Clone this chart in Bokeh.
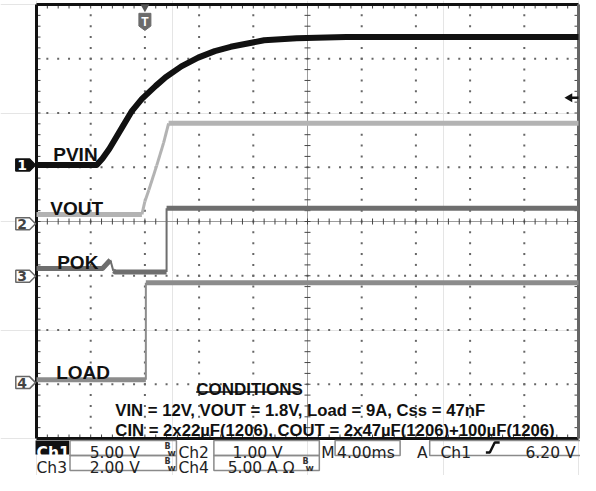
import numpy as np
from bokeh.plotting import figure
from bokeh.models import Range1d
from bokeh.core.properties import value
from bokeh.embed import file_html
from bokeh.resources import INLINE

# ---------------- data ----------------
# time in ms measured from the left edge of the screen (4 ms/div)
pvin_time = [0.0, 4.44, 4.87, 5.38, 6.33, 7.05, 7.78, 8.80, 9.53, 10.69, 11.93,
             13.16, 14.33, 16.80, 19.20, 22.84, 40.0]
pvin_volts = [0.0, 0.0, 0.6, 1.5, 3.5, 5.0, 6.1, 7.3, 8.1, 9.1, 9.9,
              10.5, 10.9, 11.5, 11.7, 11.8, 11.8]
vout_time = [0.0, 7.78, 8.0, 8.29, 8.87, 9.38, 9.75, 40.0]
vout_volts = [0.17, 0.17, 0.41, 0.62, 1.07, 1.49, 1.85, 1.85]
pok_time = [0.0, 4.87, 5.45, 5.67, 5.82, 9.6, 9.6, 40.0]
pok_volts = [0.29, 0.29, 0.60, 0.20, 0.16, 0.16, 2.51, 2.51]
load_time = [0.0, 8.07, 8.07, 40.0]
load_amps = [0.27, 0.27, 9.2, 9.2]

channel_labels = ["PVIN", "VOUT", "POK", "LOAD"]
channel_scales = [5.0, 1.0, 2.0, 5.0]          # units per division
channel_units = ["V", "V", "V", "A"]
ground_divs = [5.04, 3.96, 2.99, 1.03]          # ground marker position (div from bottom)
time_per_div = 4.0                              # ms/div
trigger_time = 8.0                              # ms
trigger_level = 6.20                            # V on Ch1

conditions_title = "CONDITIONS"
conditions_lines = ["VIN = 12V, VOUT = 1.8V, Load = 9A, Css = 47nF",
                    "CIN = 2x22\u00b5F(1206), COUT = 2x47\u00b5F(1206)+100\u00b5F(1206)"]

# ---------------- layout (canvas pixels) ----------------
W, H = 580, 475
N_X, N_Y = 10, 8
FL, DIV_W = 36.0, 54.2
FT, DIV_H = 4.0, 54.25
T_END = N_X * time_per_div


def cx2t(c):
    return (c - FL) / DIV_W * time_per_div


def cy2d(c):
    return N_Y - (c - FT) / DIV_H


def rx(x):   # reference pixel x -> ms
    return cx2t(FL + (x - 36) * DIV_W / 55.0)


def ry(y):   # reference pixel y (graticule area) -> divisions
    return cy2d(FT + (y - 4) * DIV_H / 55.375)


def dxp(n):
    return n / DIV_W * time_per_div


def dyp(n):
    return n / DIV_H


x0, x1 = cx2t(0), cx2t(W)
y0, y1 = cy2d(H), cy2d(0)

p = figure(width=W, height=H, x_range=Range1d(x0, x1), y_range=Range1d(y0, y1),
           toolbar_location=None, output_backend="svg",
           x_axis_location=None, y_axis_location=None, min_border=0)
p.outline_line_color = None
p.background_fill_color = "white"
p.border_fill_color = "white"

for i, (g, s) in enumerate(zip(ground_divs, channel_scales)):
    p.extra_y_ranges["ch%d" % (i + 1)] = Range1d((y0 - g) * s, (y1 - g) * s)

# ---------------- graticule ----------------
minor_t = [i * time_per_div / 5 for i in range(1, N_X * 5)]
minor_d = [j / 5 for j in range(1, N_Y * 5)]
dot_x, dot_y = [], []
for k in range(1, N_X):
    if k == N_X // 2:
        continue
    for d in minor_d:
        dot_x.append(k * time_per_div)
        dot_y.append(d)
for j in range(1, N_Y):
    if j == N_Y // 2:
        continue
    for t in minor_t:
        dot_x.append(t)
        dot_y.append(j)
p.scatter(dot_x, dot_y, marker="square", size=2, fill_color="#666666", line_color=None)

# centre cross-hair with ticks
tc = N_X // 2 * time_per_div
p.segment([0], [N_Y / 2], [T_END], [N_Y / 2], line_color="#555555", line_width=1, line_dash="1 1")
p.segment([tc], [0], [tc], [N_Y], line_color="#555555", line_width=1, line_dash="1 1")
p.segment(minor_t, [N_Y / 2 - dyp(3)] * len(minor_t), minor_t, [N_Y / 2 + dyp(3)] * len(minor_t),
          line_color="#444444", line_width=1)
p.segment([tc - dxp(3)] * len(minor_d), minor_d, [tc + dxp(3)] * len(minor_d), minor_d,
          line_color="#444444", line_width=1)
# edge ticks
n = len(minor_t)
p.segment(minor_t, [N_Y] * n, minor_t, [N_Y - dyp(4)] * n, line_color="#444444", line_width=1)
p.segment(minor_t, [0] * n, minor_t, [dyp(4)] * n, line_color="#444444", line_width=1)
m = len(minor_d)
p.segment([0] * m, minor_d, [dxp(4)] * m, minor_d, line_color="#444444", line_width=1)
p.segment([T_END] * m, minor_d, [T_END - dxp(4)] * m, minor_d, line_color="#444444", line_width=1)
# frame border
p.segment([0, 0, 0], [0, N_Y, 0], [0, T_END, T_END], [N_Y, N_Y, 0], line_color="#111111", line_width=3)
p.segment([T_END], [0], [T_END], [N_Y], line_color="#666666", line_width=3)

# ---------------- traces ----------------


def split_trace(t, v, scale):
    thick_x, thick_y, thin_x, thin_y = [], [], [], []
    run_x, run_y = [t[0]], [v[0]]
    for i in range(len(t) - 1):
        dx = (t[i + 1] - t[i]) / time_per_div * DIV_W
        dy = abs(v[i + 1] - v[i]) / scale * DIV_H
        if dy > 4 and dy > 2.5 * dx:
            thin_x.append([t[i], t[i + 1]])
            thin_y.append([v[i], v[i + 1]])
            if len(run_x) > 1:
                thick_x.append(run_x)
                thick_y.append(run_y)
            run_x, run_y = [t[i + 1]], [v[i + 1]]
        else:
            run_x.append(t[i + 1])
            run_y.append(v[i + 1])
    if len(run_x) > 1:
        thick_x.append(run_x)
        thick_y.append(run_y)
    return thick_x, thick_y, thin_x, thin_y


traces = [(pvin_time, pvin_volts, "#111111", 6, 6),
          (vout_time, vout_volts, "#b3b3b3", 5, 3),
          (pok_time, pok_volts, "#6e6e6e", 5, 2),
          (load_time, load_amps, "#8c8c8c", 5, 2)]
for i, (t, v, col, w_thick, w_thin) in enumerate(traces):
    name = "ch%d" % (i + 1)
    tx, ty, nx, ny = split_trace(t, v, channel_scales[i])
    if nx:
        p.multi_line(nx, ny, line_color=col, line_width=w_thin, y_range_name=name)
    if tx:
        p.multi_line(tx, ty, line_color=col, line_width=w_thick, line_join="round",
                     y_range_name=name)

# ---------------- channel ground markers ----------------
for i, g in enumerate(ground_divs):
    xs = [rx(15), rx(29), rx(35), rx(29), rx(15)]
    ys = [g + dyp(6), g + dyp(6), g, g - dyp(6), g - dyp(6)]
    if i == 0:
        p.patch(xs, ys, fill_color="#111111", line_color="#111111", line_width=1.5)
        tcol = "white"
    else:
        p.patch(xs, ys, fill_color="white", line_color="#666666", line_width=1.5)
        tcol = "#444444"
    p.text([rx(21.5)], [g], text=[str(i + 1)], text_font=value("DejaVu Sans"),
           text_font_size="14px", text_font_style="bold", text_color=tcol,
           text_align="center", text_baseline="middle")

# ---------------- trigger markers ----------------
p.scatter([trigger_time], [ry(6.5)], marker="inverted_triangle", size=9,
          fill_color="#555555", line_color=None)
sx = [trigger_time - dxp(6), trigger_time + dxp(6), trigger_time + dxp(6), trigger_time,
      trigger_time - dxp(6)]
sy = [ry(13), ry(13), ry(26), ry(30.5), ry(26)]
p.patch(sx, sy, fill_color="#6b6b6b", line_color="#6b6b6b", line_width=1)
p.text([trigger_time], [ry(21.5)], text=["T"], text_font=value("Liberation Sans"),
       text_font_size="12px", text_font_style="bold", text_color="white",
       text_align="center", text_baseline="middle")
lvl = ground_divs[0] + trigger_level / channel_scales[0]
p.segment([rx(577)], [lvl], [rx(586)], [lvl], line_color="#111111", line_width=2.5)
p.scatter([rx(577)], [lvl], marker="triangle", angle=np.pi / 2, size=9,
          fill_color="#111111", line_color=None)

# ---------------- trace labels ----------------
lab_x = [rx(53), rx(50), rx(57), rx(56)]
lab_y = [ry(157), ry(212), ry(267), ry(380)]
p.text(lab_x, lab_y, text=channel_labels, text_font=value("Liberation Sans"),
       text_font_size="19px", text_font_style="bold", text_color="#111111",
       text_baseline="alphabetic")

# ---------------- conditions ----------------
p.text([rx(198)], [ry(397)], text=[conditions_title], text_font=value("Liberation Sans"),
       text_font_size="17px", text_font_style="bold", text_color="#111111",
       text_baseline="alphabetic")
p.segment([rx(198)], [ry(399.5)], [rx(303)], [ry(399.5)], line_color="#111111", line_width=1.5)
p.text([rx(116), rx(116)], [ry(418), ry(439)], text=conditions_lines,
       text_font=value("Liberation Sans"), text_font_size="16.7px", text_font_style="bold",
       text_color="#111111", text_baseline="alphabetic")

# ---------------- status bar (canvas y positions) ----------------
R1_T, R1_B, R2_B = 440.0, 455.0, 470.0
box_l = [70, 216, 339, 435, 70, 216]
box_r = [178, 323, 405, 600, 178, 323]
box_t = [R1_T, R1_T, R1_T, R1_T, R1_B, R1_B]
box_b = [R1_B, R1_B, R1_B, R1_B, R2_B, R2_B]
p.quad(left=[rx(v) for v in box_l], right=[rx(v) for v in box_r],
       top=[cy2d(v) for v in box_t], bottom=[cy2d(v) for v in box_b],
       fill_color=None, line_color="#8a8a8a", line_width=1.5)
p.quad(left=[rx(35)], right=[rx(69)], top=[cy2d(R1_T)], bottom=[cy2d(R1_B - 1)],
       fill_color="#111111", line_color=None)


def fmt(s, u):
    return "%.2f %s" % (s, u)


row1, row2 = cy2d(452.0), cy2d(467.0)
status_font = value("DejaVu Sans")
p.text([rx(36)], [row1], text=["Ch1"], text_font=status_font, text_font_size="15.5px",
       text_font_style="bold", text_color="white", text_baseline="alphabetic")
st_x = [rx(90), rx(180), rx(235), rx(325), rx(341), rx(422), rx(446), cx2t(525),
        rx(36), rx(90), rx(180), rx(230)]
st_y = [row1] * 8 + [row2] * 4
st_t = [fmt(channel_scales[0], channel_units[0]), "Ch2", fmt(channel_scales[1], channel_units[1]),
        "M", "%.2fms" % time_per_div, "A", "Ch1", fmt(trigger_level, "V"),
        "Ch3", fmt(channel_scales[2], channel_units[2]), "Ch4",
        fmt(channel_scales[3], channel_units[3]) + " \u03a9"]
p.text(st_x, st_y, text=st_t, text_font=status_font, text_font_size="15.5px",
       text_color="#222222", text_baseline="alphabetic")
# bandwidth-limit glyphs
bw_x = [166, 166, 306]
bw_y = [452.0, 467.0, 467.0]
p.text([rx(v) for v in bw_x], [cy2d(v - 6) for v in bw_y], text=["B"] * 3, text_font=status_font,
       text_font_size="8px", text_font_style="bold", text_color="#333333", text_baseline="alphabetic")
p.text([rx(v + 3) for v in bw_x], [cy2d(v) for v in bw_y], text=["w"] * 3, text_font=status_font,
       text_font_size="9px", text_font_style="bold", text_color="#333333", text_baseline="alphabetic")
# rising edge slope glyph
p.line([rx(492), rx(496), rx(501), rx(506)], [cy2d(452), cy2d(452), cy2d(442), cy2d(442)],
       line_color="#111111", line_width=2.5)

open("out.html", "w").write(file_html(p, INLINE))
